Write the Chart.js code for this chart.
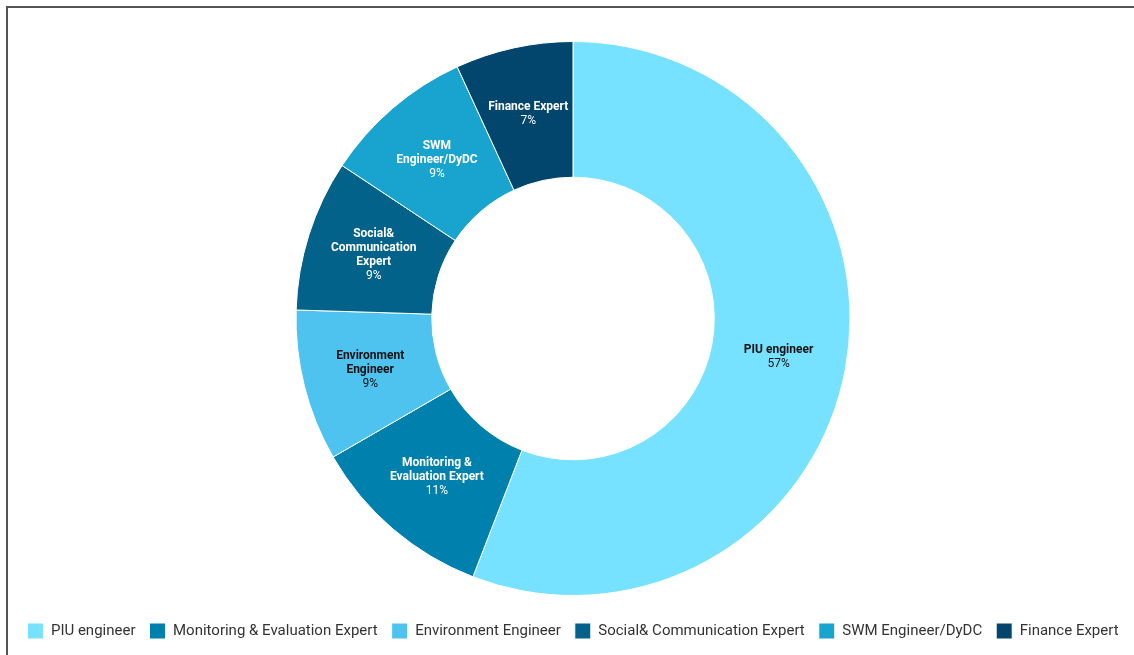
<!DOCTYPE html>
<html>
<head>
<meta charset="utf-8">
<script src="https://cdn.jsdelivr.net/npm/chart.js@4.4.1/dist/chart.umd.min.js"></script>
<style>
  html, body { margin: 0; padding: 0; background: #fff; overflow: hidden; }
  body { width: 1134px; height: 655px; position: relative; }
  #frame {
    position: absolute; left: 6px; top: 6px; width: 1200px; height: 700px;
    border-top: 2px solid #555; border-left: 2px solid #555; box-sizing: border-box;
  }
  #wrap { position: absolute; left: 0px; top: 8px; width: 1146px; height: 647px; }
</style>
</head>
<body>
<div id="frame"></div>
<div id="wrap"><canvas id="chart"></canvas></div>
<script>
// Team composition by role (share of staff, %)
const categories = [
  'PIU engineer',
  'Monitoring & Evaluation Expert',
  'Environment Engineer',
  'Social& Communication Expert',
  'SWM Engineer/DyDC',
  'Finance Expert'
];
const shares = [57, 11, 9, 9, 9, 7];
// Wrapped names shown inside each segment
const sliceLabelLines = [
  ['PIU engineer'],
  ['Monitoring &', 'Evaluation Expert'],
  ['Environment', 'Engineer'],
  ['Social&', 'Communication', 'Expert'],
  ['SWM', 'Engineer/DyDC'],
  ['Finance Expert']
];
const sliceColors = ['#77E2FF', '#0080AC', '#4EC3EF', '#02628A', '#19A3CF', '#02466E'];
const sliceTextColors = ['#111', '#fff', '#111', '#fff', '#fff', '#fff'];

// Draws the role name (bold) and its share at the middle of each arc
const sliceLabels = {
  id: 'sliceLabels',
  afterDatasetsDraw(chart) {
    const ctx = chart.ctx;
    const meta = chart.getDatasetMeta(0);
    const lineH = 14;
    meta.data.forEach((arc, i) => {
      const p = arc.tooltipPosition();
      const lines = sliceLabelLines[i].map(t => ({ t, bold: true }));
      lines.push({ t: shares[i] + '%', bold: false });
      const top = p.y - (lines.length - 1) * lineH / 2;
      ctx.save();
      ctx.textAlign = 'center';
      ctx.textBaseline = 'middle';
      ctx.fillStyle = sliceTextColors[i];
      lines.forEach((ln, k) => {
        ctx.font = (ln.bold ? '700 ' : '400 ') + '12px Roboto';
        ctx.fillText(ln.t, p.x, top + k * lineH);
      });
      ctx.restore();
    });
  }
};

new Chart(document.getElementById('chart'), {
  type: 'doughnut',
  data: {
    labels: categories,
    datasets: [{
      data: shares,
      backgroundColor: sliceColors,
      borderColor: '#ffffff',
      borderWidth: 1,
      hoverOffset: 0,
      radius: 277
    }]
  },
  options: {
    responsive: true,
    maintainAspectRatio: false,
    animation: false,
    cutout: '51%',
    layout: { padding: { top: 20, bottom: 6 } },
    plugins: {
      tooltip: { enabled: false },
      legend: {
        position: 'bottom',
        labels: {
          boxWidth: 16,
          boxHeight: 16,
          padding: 14,
          color: '#333',
          font: { family: 'Roboto', size: 15 }
        }
      }
    }
  },
  plugins: [sliceLabels]
});
</script>
</body>
</html>
